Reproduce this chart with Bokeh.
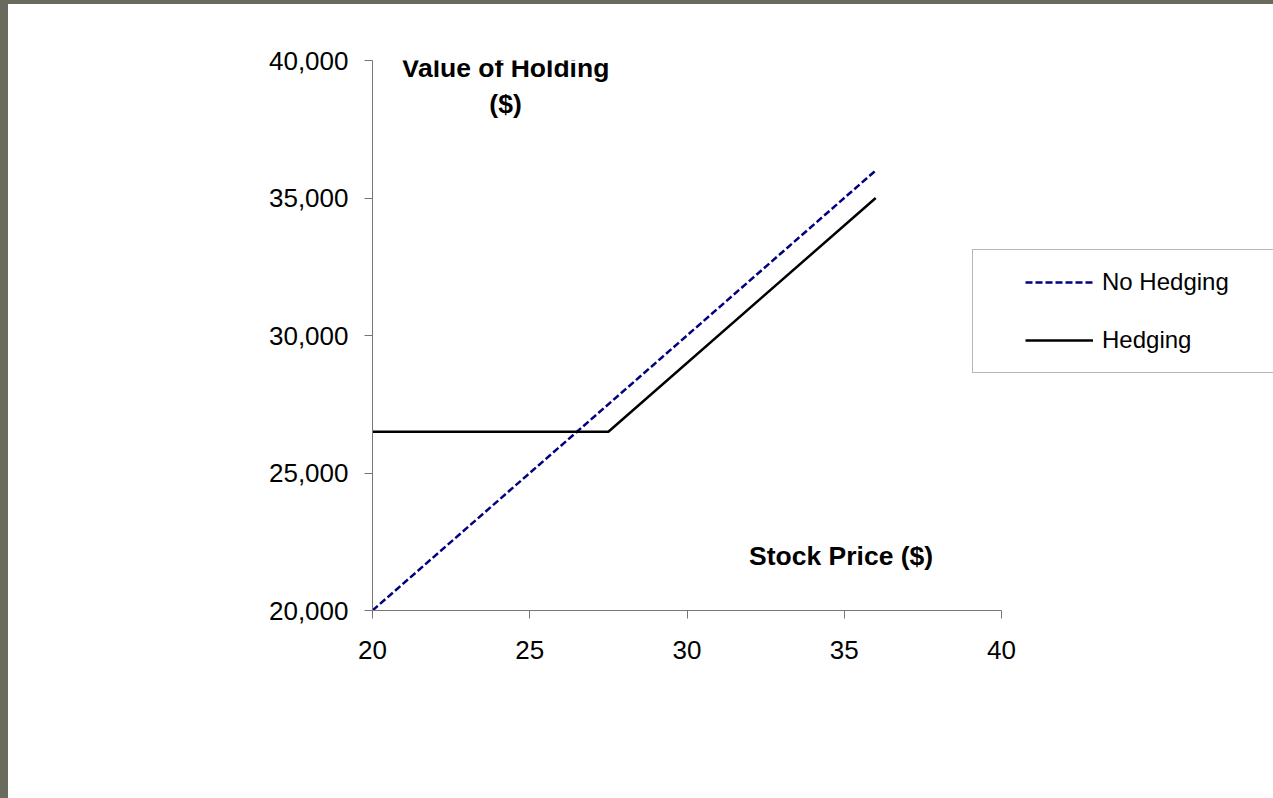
from bokeh.plotting import figure
from bokeh.models import (Range1d, FixedTicker, NumeralTickFormatter, Label,
                          Legend, LegendItem)
from bokeh.embed import file_html
from bokeh.resources import INLINE

# ---- data ----
price_no_hedge = [20, 36]
value_no_hedge = [20000, 36000]
price_hedge = [20, 27.5, 36]
value_hedge = [26500, 26500, 35000]
x_ticks = [20, 25, 30, 35, 40]
y_ticks = [20000, 25000, 30000, 35000, 40000]
series_names = ["No Hedging", "Hedging"]
y_title = ["Value of Holding", "($)"]
x_title = "Stock Price ($)"

FONT = "Liberation Sans"
AXIS_GRAY = "#767676"
BORDER = "#6a6b5d"

p = figure(frame_width=629, frame_height=550, output_backend="svg",
           toolbar_location=None,
           x_range=Range1d(20, 40), y_range=Range1d(20000, 40000),
           min_border_left=372, min_border_right=272,
           min_border_top=60, min_border_bottom=188)
p.background_fill_color = "white"
p.border_fill_color = "white"
p.border_fill_alpha = 0
p.outline_line_color = None
p.grid.visible = False
p.styles = {"box-shadow": f"inset 8px 4px 0 0 {BORDER}",
            "background-color": "white",
            "width": "1273px", "height": "798px",
            "max-width": "1273px", "max-height": "798px",
            "overflow": "hidden"}

# axes
for ax in (p.xaxis[0], p.yaxis[0]):
    ax.axis_line_color = AXIS_GRAY
    ax.axis_line_width = 1
    ax.major_tick_line_color = AXIS_GRAY
    ax.major_tick_out = 8
    ax.major_tick_in = 0
    ax.minor_tick_line_color = None
    ax.major_label_text_font = FONT
    ax.major_label_text_font_size = "26px"
    ax.major_label_text_color = "black"

p.xaxis[0].ticker = FixedTicker(ticks=x_ticks)
p.yaxis[0].ticker = FixedTicker(ticks=y_ticks)
p.yaxis[0].formatter = NumeralTickFormatter(format="0,0")
p.xaxis[0].major_label_standoff = 22
p.yaxis[0].major_label_standoff = 16

# lines
r1 = p.line(price_no_hedge, value_no_hedge, line_color="#000080", line_width=2.5,
            line_dash="7 3")
r2 = p.line(price_hedge, value_hedge, line_color="black", line_width=2.5)

# legend (right panel, so it is not clipped to the frame)
lg = Legend(items=[LegendItem(label=series_names[0], renderers=[r1]),
                   LegendItem(label=series_names[1], renderers=[r2])],
            location=(-29, 237), margin=0, padding=18,
            title=" ", title_location="left", title_standoff=33,
            title_text_font_size="1px", title_text_alpha=0,
            border_line_color="#6e6e6e", border_line_width=1,
            background_fill_color="white", background_fill_alpha=1,
            glyph_width=68, glyph_height=28, label_height=28, label_width=163,
            spacing=30, label_standoff=9,
            label_text_font=FONT, label_text_font_size="24px",
            label_text_color="black")
p.add_layout(lg, "right")

# titles
p.add_layout(Label(x=24.23, y=39710, text=y_title[0], text_align="center",
                   text_baseline="middle", text_font=FONT, text_font_size="26.5px",
                   text_font_style="bold", text_color="black"))
p.add_layout(Label(x=24.23, y=38436, text=y_title[1], text_align="center",
                   text_baseline="middle", text_font=FONT, text_font_size="26.5px",
                   text_font_style="bold", text_color="black"))
p.add_layout(Label(x=34.9, y=22000, text=x_title, text_align="center",
                   text_baseline="middle", text_font=FONT, text_font_size="26.5px",
                   text_font_style="bold", text_color="black"))

open("out.html", "w").write(file_html(p, INLINE))
